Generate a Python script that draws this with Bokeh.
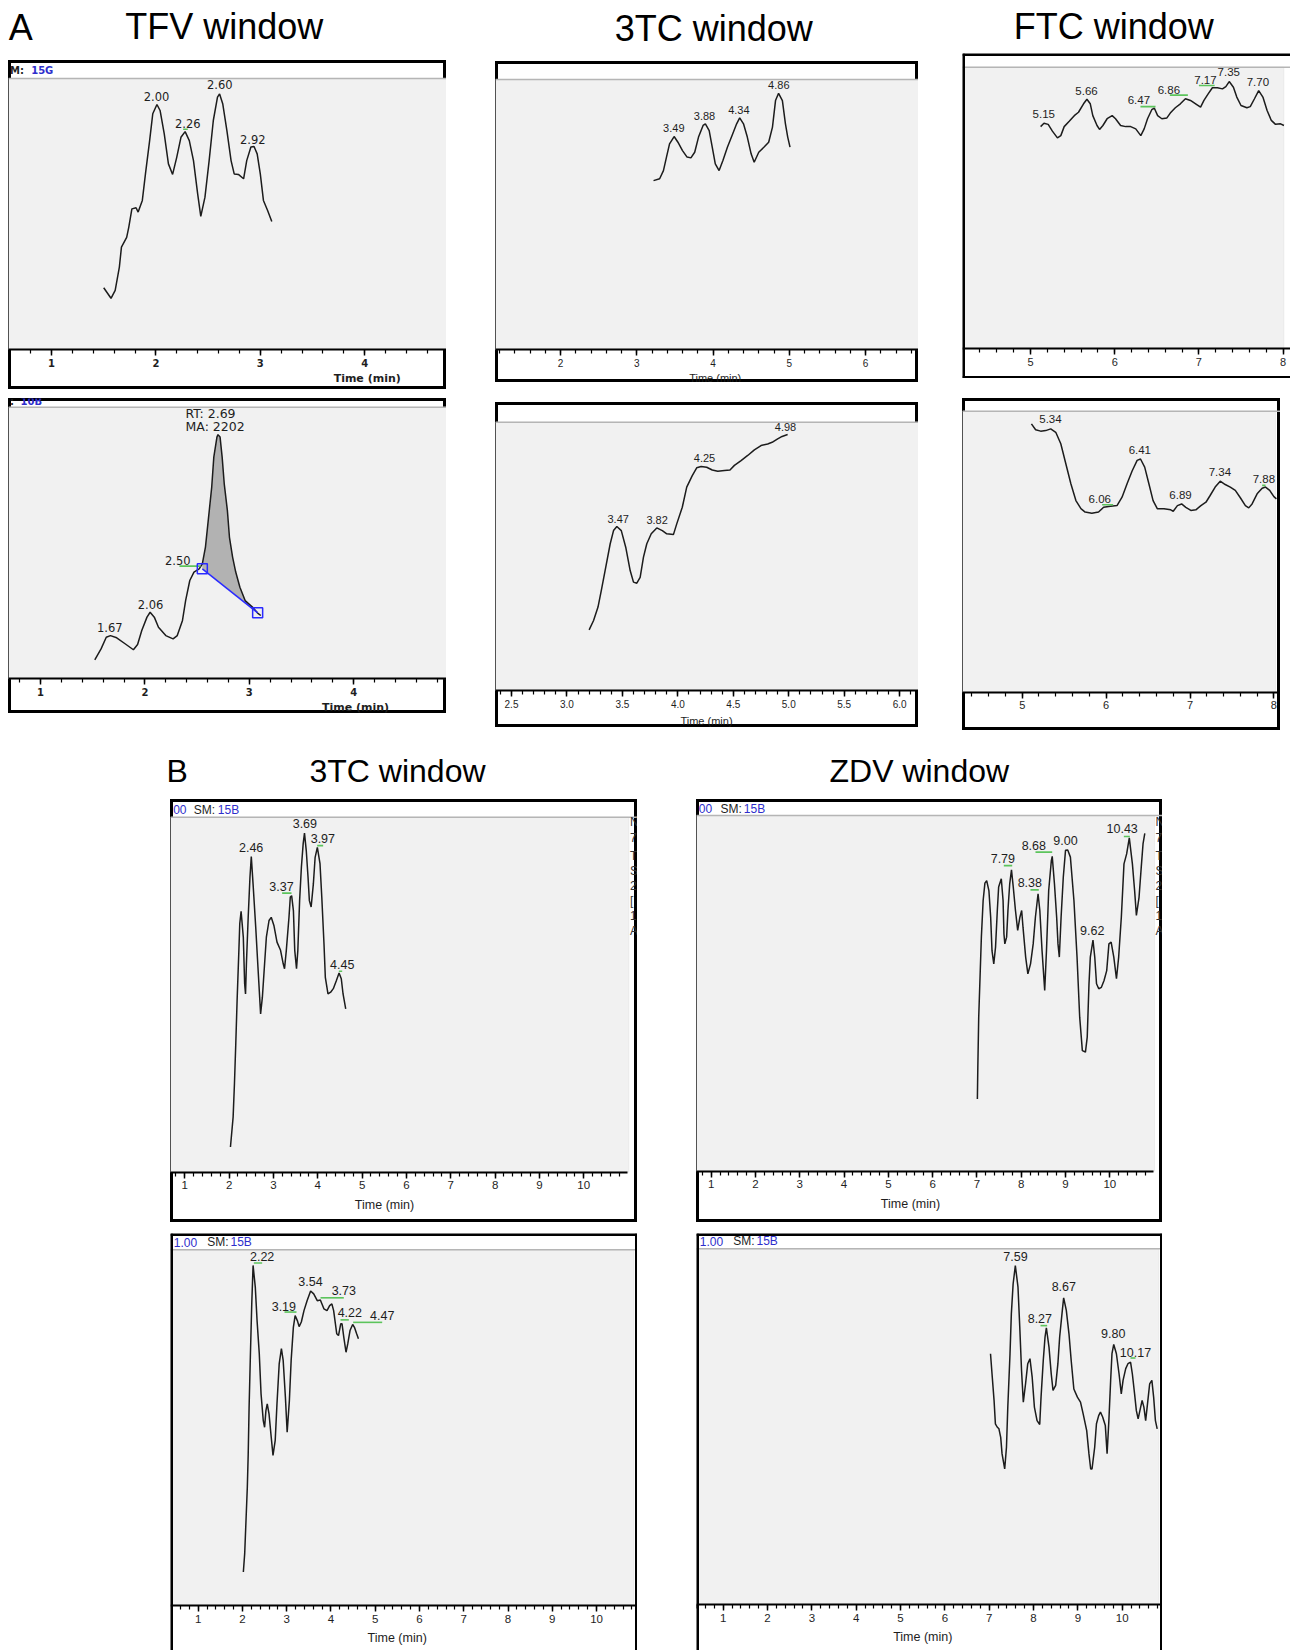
import numpy as np
from bokeh.plotting import figure
from bokeh.layouts import row, column
from bokeh.models import (Range1d, LinearAxis, SingleIntervalTicker, BoxAnnotation,
                          Span, Label, Spacer, PrintfTickFormatter)
from bokeh.core.properties import value
from bokeh.embed import file_html
from bokeh.resources import INLINE

# ------------------------------------------------------------------ data
# Panel A, TFV window (top)
tfv_a_t = [1.50, 1.57, 1.61, 1.65, 1.67, 1.72, 1.74, 1.77, 1.81, 1.83, 1.87, 1.90, 1.94, 1.97, 2.01,
           2.04, 2.08, 2.12, 2.16, 2.20, 2.24, 2.28, 2.32, 2.36, 2.40, 2.43, 2.47, 2.51, 2.55, 2.59,
           2.61, 2.64, 2.68, 2.72, 2.75, 2.79, 2.84, 2.87, 2.91, 2.94, 2.97, 3.00, 3.03, 3.07, 3.11]
tfv_a_y = [22.8, 18.9, 21.8, 30.4, 37.8, 41.4, 45.1, 51.9, 52.3, 50.7, 55.0, 64.8, 77.1, 87.0, 90.4,
           88.2, 79.6, 68.5, 64.6, 71.0, 78.3, 80.4, 77.1, 69.7, 57.4, 49.1, 56.2, 69.7, 84.5, 93.1,
           94.3, 90.7, 80.8, 69.7, 64.8, 64.6, 63.0, 69.7, 74.7, 74.9, 72.2, 64.8, 55.0, 51.3, 47.2]
tfv_a_lab = ["2.00", "2.26", "2.60", "2.92"]
tfv_a_lab_t = [2.006, 2.305, 2.612, 2.928]
tfv_a_lab_y = [91.9, 81.8, 96.2, 76.1]

# Panel A, TFV window (bottom)
tfv_b_t = [1.52, 1.58, 1.63, 1.67, 1.73, 1.81, 1.89, 1.93, 1.97, 2.02, 2.05, 2.09, 2.13, 2.20, 2.27,
           2.31, 2.36, 2.39, 2.43, 2.47, 2.52, 2.55, 2.58, 2.61, 2.64, 2.66, 2.69, 2.70, 2.72, 2.74,
           2.76, 2.79, 2.81, 2.84, 2.87, 2.91, 2.96, 3.03, 3.08, 3.11]
tfv_b_y = [7.0, 11.0, 15.3, 15.9, 15.1, 12.9, 10.7, 12.6, 17.8, 22.7, 24.5, 22.7, 19.0, 15.9, 14.7,
           15.9, 21.5, 28.8, 36.2, 39.3, 40.5, 42.3, 48.5, 59.5, 70.6, 81.6, 89.0, 89.9, 89.0, 81.6,
           71.8, 62.0, 52.1, 44.8, 39.3, 33.7, 28.8, 26.4, 24.2, 23.3]
tfv_b_lab = ["1.67", "2.06", "2.50"]
tfv_b_lab_t = [1.664, 2.054, 2.315]
tfv_b_lab_y = [17.5, 25.8, 42.0]
tfv_b_base_t = [2.55, 3.08]
tfv_b_base_y = [40.5, 24.3]

# Panel A, 3TC window (top)
tc_a_t = [3.22, 3.30, 3.35, 3.39, 3.43, 3.49, 3.54, 3.60, 3.66, 3.71, 3.76, 3.81, 3.87, 3.90, 3.95,
          3.99, 4.03, 4.08, 4.13, 4.19, 4.25, 4.31, 4.35, 4.40, 4.45, 4.50, 4.54, 4.60, 4.67, 4.73,
          4.78, 4.82, 4.86, 4.91, 4.95, 4.98, 5.01]
tc_a_y = [62.6, 63.3, 66.3, 71.3, 76.2, 78.9, 76.8, 73.7, 71.3, 71.0, 73.1, 78.7, 83.0, 83.6, 81.1,
          75.0, 68.8, 66.3, 70.0, 75.0, 79.3, 83.6, 85.8, 83.6, 78.7, 72.5, 69.4, 73.1, 75.0, 76.8,
          82.4, 92.2, 94.9, 92.2, 83.6, 78.7, 75.0]
tc_a_lab = ["3.49", "3.88", "4.34", "4.86"]
tc_a_lab_t = [3.486, 3.889, 4.339, 4.863]
tc_a_lab_y = [80.5, 85.2, 87.3, 96.6]

# Panel A, 3TC window (bottom)
tc_b_t = [3.20, 3.24, 3.28, 3.31, 3.35, 3.39, 3.42, 3.45, 3.49, 3.53, 3.57, 3.60, 3.63, 3.66, 3.69,
          3.72, 3.76, 3.81, 3.86, 3.90, 3.96, 3.99, 4.04, 4.08, 4.13, 4.17, 4.21, 4.26, 4.31, 4.36,
          4.42, 4.47, 4.51, 4.57, 4.63, 4.69, 4.75, 4.81, 4.85, 4.90, 4.94, 4.99]
tc_b_y = [22.6, 26.1, 31.1, 37.3, 46.0, 54.7, 59.6, 61.1, 59.6, 53.4, 44.7, 40.4, 40.0, 42.2, 49.7,
          54.7, 58.4, 60.6, 59.6, 58.4, 58.1, 62.1, 68.3, 75.8, 80.1, 83.0, 83.5, 83.2, 82.2, 81.7,
          82.0, 82.2, 83.9, 85.7, 87.6, 89.7, 91.3, 91.9, 92.5, 93.8, 94.7, 95.4]
tc_b_lab = ["3.47", "3.82", "4.25", "4.98"]
tc_b_lab_t = [3.462, 3.813, 4.240, 4.971]
tc_b_lab_y = [62.4, 62.1, 85.1, 96.9]

# Panel A, FTC window (top)
ftc_a_t = [5.12, 5.16, 5.21, 5.26, 5.32, 5.36, 5.40, 5.46, 5.52, 5.57, 5.63, 5.67, 5.71, 5.74, 5.79,
           5.82, 5.86, 5.91, 5.97, 6.01, 6.07, 6.13, 6.19, 6.25, 6.31, 6.35, 6.39, 6.44, 6.47, 6.51,
           6.56, 6.62, 6.66, 6.72, 6.78, 6.84, 6.90, 6.97, 7.02, 7.06, 7.11, 7.16, 7.22, 7.28, 7.32,
           7.36, 7.41, 7.45, 7.50, 7.57, 7.61, 7.66, 7.71, 7.76, 7.81, 7.86, 7.91, 7.97, 8.01]
ftc_a_y = [78.9, 80.1, 79.7, 77.3, 74.9, 75.7, 78.9, 80.8, 82.8, 84.0, 87.0, 88.6, 87.0, 82.8, 79.3,
           77.9, 79.3, 81.7, 82.8, 81.7, 79.3, 78.9, 78.9, 78.1, 75.7, 78.1, 81.7, 84.9, 85.5, 82.8,
           81.7, 82.0, 83.7, 85.6, 87.0, 88.8, 88.2, 86.8, 85.8, 88.2, 90.5, 92.7, 92.7, 92.3, 93.1,
           94.9, 92.9, 89.4, 86.4, 85.6, 86.0, 88.8, 91.7, 89.4, 84.6, 81.1, 79.7, 79.9, 79.3]
ftc_a_lab = ["5.15", "5.66", "6.47", "6.86", "7.17", "7.35", "7.70"]
ftc_a_lab_t = [5.158, 5.665, 6.287, 6.643, 7.078, 7.355, 7.700]
ftc_a_lab_y = [82.0, 90.2, 87.0, 90.5, 94.1, 96.7, 93.1]
ftc_a_mk_t0 = [6.306, 6.655, 7.000]
ftc_a_mk_t1 = [6.485, 6.869, 7.187]
ftc_a_mk_y = [86.0, 90.1, 93.5]

# Panel A, FTC window (bottom)
ftc_b_t = [5.11, 5.16, 5.22, 5.28, 5.34, 5.40, 5.46, 5.52, 5.58, 5.64, 5.70, 5.75, 5.83, 5.91, 5.97,
           6.03, 6.13, 6.19, 6.25, 6.31, 6.37, 6.41, 6.46, 6.51, 6.56, 6.61, 6.69, 6.77, 6.80, 6.85,
           6.90, 6.95, 7.01, 7.07, 7.13, 7.19, 7.24, 7.30, 7.36, 7.42, 7.48, 7.54, 7.60, 7.66, 7.70,
           7.74, 7.80, 7.86, 7.90, 7.95, 8.00, 8.03]
ftc_b_y = [95.5, 93.4, 92.9, 93.1, 93.7, 92.5, 88.4, 81.3, 74.2, 68.2, 65.3, 64.1, 63.7, 64.1, 65.8,
           66.1, 66.4, 69.4, 74.2, 78.7, 82.5, 83.0, 80.1, 74.2, 68.2, 65.3, 65.3, 64.9, 64.4, 66.4,
           67.0, 65.8, 64.7, 64.9, 66.4, 67.6, 70.0, 73.0, 75.1, 73.9, 73.0, 71.8, 69.2, 66.4, 65.6,
           67.0, 70.6, 72.6, 73.0, 71.8, 69.6, 68.8]
ftc_b_lab = ["5.34", "6.06", "6.41", "6.89", "7.34", "7.88"]
ftc_b_lab_t = [5.337, 5.925, 6.402, 6.887, 7.356, 7.880]
ftc_b_lab_y = [95.7, 67.3, 84.6, 68.8, 76.8, 74.4]
ftc_b_mk_t0 = [5.953, 7.860]
ftc_b_mk_t1 = [6.084, 7.900]
ftc_b_mk_y = [66.7, 73.6]

# Panel B, 3TC window (top)
b3tc_a_t = [2.03, 2.09, 2.12, 2.15, 2.18, 2.22, 2.24, 2.27, 2.32, 2.35, 2.37, 2.39, 2.43, 2.47, 2.50,
            2.54, 2.60, 2.65, 2.71, 2.75, 2.80, 2.84, 2.90, 2.95, 3.01, 3.08, 3.16, 3.22, 3.25, 3.29,
            3.35, 3.38, 3.41, 3.45, 3.48, 3.52, 3.55, 3.59, 3.63, 3.67, 3.70, 3.74, 3.78, 3.81, 3.85,
            3.90, 3.94, 3.99, 4.05, 4.09, 4.14, 4.17, 4.23, 4.29, 4.35, 4.42, 4.48, 4.53, 4.57, 4.63]
b3tc_a_y = [7.1, 15.5, 24.9, 36.2, 48.4, 62.5, 70.0, 73.5, 66.2, 53.1, 50.2, 58.7, 71.8, 83.1, 88.9,
            81.2, 69.0, 57.8, 44.6, 49.3, 58.7, 66.2, 70.9, 71.8, 69.5, 64.8, 62.5, 58.7, 57.3, 62.5,
            71.8, 77.5, 77.9, 73.7, 62.5, 57.3, 62.5, 76.5, 85.9, 92.5, 95.5, 90.6, 83.1, 76.5, 74.7,
            81.2, 88.7, 91.5, 86.9, 77.5, 64.3, 54.9, 50.2, 50.7, 51.7, 54.0, 56.1, 54.5, 50.2, 46.0]
b3tc_a_lab = ["2.46", "3.37", "3.69", "3.97", "4.45"]
b3tc_a_lab_t = [2.497, 3.181, 3.708, 4.114, 4.550]
b3tc_a_lab_y = [90.3, 79.1, 96.9, 92.7, 57.3]
b3tc_a_mk_t0 = [3.196, 3.986, 4.475]
b3tc_a_mk_t1 = [3.407, 4.121, 4.550]
b3tc_a_mk_y = [78.6, 92.0, 56.6]

# Panel B, ZDV window (top)
zdv_a_t = [7.01, 7.02, 7.04, 7.07, 7.10, 7.14, 7.18, 7.22, 7.27, 7.31, 7.34, 7.38, 7.42, 7.46, 7.49,
           7.55, 7.59, 7.61, 7.63, 7.67, 7.70, 7.74, 7.78, 7.82, 7.87, 7.92, 7.97, 8.01, 8.04, 8.10,
           8.15, 8.21, 8.27, 8.32, 8.38, 8.42, 8.47, 8.53, 8.57, 8.62, 8.68, 8.70, 8.75, 8.80, 8.83,
           8.86, 8.90, 8.95, 9.00, 9.05, 9.11, 9.19, 9.26, 9.32, 9.38, 9.45, 9.49, 9.53, 9.56, 9.62,
           9.66, 9.70, 9.75, 9.81, 9.87, 9.93, 9.98, 10.03, 10.09, 10.15, 10.20, 10.26, 10.32, 10.38,
           10.44, 10.51, 10.56, 10.60, 10.66, 10.71, 10.75, 10.79]
zdv_a_y = [20.3, 29.2, 43.3, 54.5, 65.8, 76.1, 81.0, 81.7, 78.9, 71.4, 62.0, 58.3, 63.0, 73.3, 79.9,
           82.2, 76.1, 66.7, 63.9, 65.8, 73.3, 80.8, 84.7, 79.9, 73.3, 67.7, 71.4, 73.3, 68.6, 60.2,
           55.5, 58.3, 63.9, 71.4, 78.0, 73.3, 62.0, 50.8, 62.0, 78.9, 87.3, 88.5, 80.8, 71.4, 63.9,
           60.2, 71.4, 82.7, 90.2, 90.3, 88.3, 76.1, 60.2, 43.3, 33.9, 33.5, 37.7, 52.7, 60.2, 65.0,
           60.2, 52.7, 51.3, 51.7, 53.6, 56.4, 63.9, 64.4, 60.2, 54.1, 60.2, 71.4, 86.4, 89.2,
           93.7, 86.4, 78.9, 71.9, 77.0, 85.5, 92.0, 95.0]
zdv_a_lab = ["7.79", "8.38", "8.68", "9.00", "9.62", "10.43"]
zdv_a_lab_t = [7.585, 8.194, 8.284, 9.000, 9.602, 10.279]
zdv_a_lab_y = [86.6, 79.9, 90.2, 91.6, 66.3, 95.0]
zdv_a_mk_t0 = [7.607, 8.209, 8.322, 10.317]
zdv_a_mk_t1 = [7.796, 8.397, 8.699, 10.452]
zdv_a_mk_y = [85.9, 79.1, 89.7, 94.1]

# Panel B, 3TC window (bottom)
b3tc_b_t = [2.02, 2.05, 2.08, 2.11, 2.13, 2.15, 2.18, 2.21, 2.24, 2.29, 2.33, 2.38, 2.42, 2.47, 2.50,
            2.53, 2.56, 2.60, 2.65, 2.69, 2.74, 2.78, 2.83, 2.88, 2.92, 2.97, 3.01, 3.06, 3.10, 3.15,
            3.19, 3.24, 3.28, 3.33, 3.39, 3.46, 3.54, 3.61, 3.69, 3.76, 3.84, 3.91, 3.97, 4.02, 4.06,
            4.13, 4.17, 4.22, 4.25, 4.29, 4.34, 4.38, 4.43, 4.49, 4.53, 4.58, 4.62]
b3tc_b_y = [9.4, 14.5, 23.9, 33.3, 42.6, 55.8, 70.8, 84.8, 95.6, 89.5, 80.1, 70.8, 59.5, 52.0, 50.1,
            54.8, 56.7, 53.9, 47.3, 42.2, 46.4, 56.7, 67.9, 72.2, 68.9, 58.6, 48.7, 57.6, 68.9, 78.2,
            81.5, 80.1, 78.4, 79.7, 82.9, 85.7, 88.4, 87.6, 85.7, 85.9, 83.4, 82.9, 84.3, 84.8, 82.9,
            76.4, 75.9, 79.2, 79.2, 75.4, 71.2, 73.6, 77.3, 79.0, 78.2, 76.4, 75.0]
b3tc_b_lab = ["2.22", "3.19", "3.54", "3.73", "4.22", "4.47"]
b3tc_b_lab_t = [2.445, 2.935, 3.537, 4.290, 4.426, 5.157]
b3tc_b_lab_y = [96.8, 82.9, 89.7, 87.2, 81.1, 80.4]
b3tc_b_mk_t0 = [2.257, 2.950, 3.763, 4.215, 4.501]
b3tc_b_mk_t1 = [2.445, 3.221, 4.290, 4.403, 5.157]
b3tc_b_mk_y = [96.3, 82.5, 86.5, 80.3, 79.6]

# Panel B, ZDV window (bottom)
zdv_b_t = [7.03, 7.07, 7.11, 7.14, 7.18, 7.22, 7.26, 7.29, 7.35, 7.39, 7.42, 7.47, 7.50, 7.54, 7.59,
           7.65, 7.69, 7.73, 7.77, 7.82, 7.87, 7.92, 7.97, 8.02, 8.08, 8.14, 8.17, 8.22, 8.26, 8.29,
           8.35, 8.40, 8.44, 8.50, 8.55, 8.59, 8.65, 8.68, 8.74, 8.80, 8.85, 8.91, 8.99, 9.06, 9.12,
           9.20, 9.25, 9.29, 9.32, 9.38, 9.42, 9.47, 9.51, 9.56, 9.62, 9.66, 9.70, 9.74, 9.77, 9.81,
           9.87, 9.93, 9.98, 10.02, 10.08, 10.13, 10.19, 10.23, 10.28, 10.32, 10.36, 10.40, 10.45,
           10.49, 10.53, 10.58, 10.62, 10.67, 10.71, 10.75, 10.79]
zdv_b_y = [70.5, 63.9, 57.4, 50.8, 49.9, 49.4, 47.0, 42.4, 38.1, 44.2, 55.5, 70.5, 81.7, 90.1, 95.3,
           89.2, 78.0, 65.8, 56.9, 62.0, 67.7, 69.1, 63.9, 55.5, 51.7, 50.6, 58.3, 68.6, 75.2, 77.8,
           72.3, 64.8, 60.2, 61.6, 67.7, 75.2, 82.7, 86.2, 82.7, 76.1, 68.6, 60.6, 58.3, 56.9, 53.6,
           48.9, 42.4, 38.1, 38.1, 44.2, 50.8, 53.1, 54.1, 52.7, 50.3, 42.4, 51.7, 63.0, 70.5, 73.1,
           70.5, 64.8, 59.2, 63.0, 66.3, 67.7, 68.1, 64.8, 59.2, 54.5, 52.2, 54.5, 57.4,
           55.5, 51.7, 57.4, 62.0, 63.0, 58.3, 51.7, 49.4]
zdv_b_lab = ["7.59", "8.27", "8.67", "9.80", "10.17"]
zdv_b_lab_t = [7.594, 8.143, 8.684, 9.797, 10.301]
zdv_b_lab_y = [96.7, 79.1, 88.0, 74.9, 69.7]
zdv_b_mk_t0 = [8.158, 10.188]
zdv_b_mk_t1 = [8.308, 10.301]
zdv_b_mk_y = [78.4, 69.3]

# ------------------------------------------------------------------ layout geometry (page pixels)
G = {
    "A1": dict(L=8, R=446, T=60, B=389, H=78, A=349, t0=1.0, x0=51, ppm=104.4),
    "A2": dict(L=8, R=446, T=398, B=713, H=406.7, A=678.3, t0=1.0, x0=40, ppm=104.4),
    "A3": dict(L=495, R=918, T=61, B=382, H=79, A=349.3, t0=2.0, x0=560, ppm=76.25),
    "A4": dict(L=495, R=918, T=402, B=727, H=421.7, A=690, t0=2.5, x0=511, ppm=110.9),
    "A5": dict(L=962, R=1290, T=53, B=378, H=66.7, A=348.3, t0=5.0, x0=1030, ppm=84.2),
    "A6": dict(L=962, R=1280, T=398, B=730, H=410.7, A=691.7, t0=5.0, x0=1021.7, ppm=83.9),
    "B1": dict(L=170, R=637, T=799, B=1222, H=816.7, A=1171.7, t0=1.0, x0=184.3, ppm=44.33),
    "B2": dict(L=696, R=1162, T=799, B=1222, H=815, A=1170.7, t0=1.0, x0=710.7, ppm=44.29),
    "B3": dict(L=170, R=637, T=1233, B=1650, H=1249.3, A=1605, t0=1.0, x0=197.7, ppm=44.26),
    "B4": dict(L=696, R=1162, T=1233, B=1650, H=1248.3, A=1604, t0=1.0, x0=722.7, ppm=44.33),
}

BLUE = "#2e2ecc"
GREEN = "#5cc45c"
LIB = "Liberation Sans"
DJV = "DejaVu Sans"


def mappers(g):
    def tx(X):
        return g["t0"] + (X - g["x0"]) / g["ppm"]

    def ry(Y):
        return (g["A"] - Y) / (g["A"] - g["H"]) * 100.0
    return tx, ry


def panel(g, t, y, lab, lab_t, lab_y, mk=None, *, lab_font, lab_px, tick_font, tick_size,
          tick_style="normal", interval=1.0, fmt=None, gray_right_px=None, axis_end_px=None,
          time_px=None, time_font=LIB, time_size="12px", time_style="normal", headers=(),
          sides="LRTB", side_text=None, shade=None):
    tx, ry = mappers(g)
    W = int(round(g["R"] - g["L"]))
    Hh = int(round(g["B"] - g["T"]))
    p = figure(width=W, height=Hh,
               x_range=Range1d(tx(g["L"]), tx(g["R"])),
               y_range=Range1d(ry(g["B"]), ry(g["T"])),
               x_axis_type=None, y_axis_type=None, toolbar_location=None,
               output_backend="svg", min_border=0, min_border_left=0, min_border_right=0,
               min_border_top=0, min_border_bottom=0,
               background_fill_color="white", border_fill_color="white")
    gray_kw = dict(bottom=0, top=100, fill_color="#f1f1f1", fill_alpha=1.0,
                   line_color="#d0d0d0", line_width=1, level="underlay")
    if gray_right_px is not None:
        gray_kw["right"] = tx(gray_right_px)
    p.add_layout(BoxAnnotation(**gray_kw))
    p.add_layout(Span(location=100, dimension="width", line_color="#b5b5b5",
                      line_width=1.5, level="underlay"))

    ax = LinearAxis(fixed_location=0,
                    ticker=SingleIntervalTicker(interval=interval, num_minor_ticks=5))
    if axis_end_px is not None:
        ax.bounds = (tx(g["L"]), tx(axis_end_px))
    ax.axis_line_color = "black"
    ax.axis_line_width = 2
    ax.major_tick_in = 0
    ax.major_tick_out = 6
    ax.major_tick_line_width = 1.5
    ax.minor_tick_in = 0
    ax.minor_tick_out = 4
    ax.minor_tick_line_width = 1.2
    ax.major_label_text_font = tick_font
    ax.major_label_text_font_size = tick_size
    ax.major_label_text_font_style = tick_style
    ax.major_label_text_color = "#1e1e1e"
    ax.major_label_standoff = 3
    if fmt:
        ax.formatter = PrintfTickFormatter(format=fmt)
    p.add_layout(ax, "below")

    if shade is not None:
        p.varea(x=shade[0], y1=shade[1], y2=shade[2], fill_color="#b2b2b2")
    p.line(x=t, y=y, line_color="#1c1c1c", line_width=1.5)
    if mk is not None:
        p.segment(x0=mk[0], y0=mk[2], x1=mk[1], y1=mk[2], line_color=GREEN, line_width=1.6)
    p.text(x=lab_t, y=lab_y, text=lab, text_align="center", text_baseline="middle",
           y_offset=-0.36 * lab_px,
           text_font=value(lab_font), text_font_size=value(f"{lab_px}px"), text_color="#1e1e1e")

    if time_px is not None:
        p.add_layout(Label(x=tx(time_px[0]), y=ry(time_px[1]), text="Time (min)",
                           text_align="center", text_baseline="middle", text_font=time_font,
                           text_font_size=time_size, text_font_style=time_style,
                           text_color="#1e1e1e"))
    for (X, Y, txt, col, size, style, font) in headers:
        p.add_layout(Label(x=tx(X), y=ry(Y), text=txt, text_align="left",
                           text_baseline="middle", text_color=col, text_font_size=size,
                           text_font_style=style, text_font=font))
    if side_text is not None:
        X0, ys, chars = side_text
        for Y, ch in zip(ys, chars):
            p.add_layout(Label(x=tx(X0), y=ry(Y), text=ch, text_align="left",
                               text_baseline="middle", text_font=LIB, text_font_size="12px",
                               text_color="#333333"))

    if sides == "LRTB":
        p.outline_line_color = "black"
        p.outline_line_width = 5
    else:
        p.outline_line_color = None
        if "L" in sides:
            p.add_layout(Span(location=tx(g["L"]), dimension="height", line_color="black", line_width=5))
        if "R" in sides:
            p.add_layout(Span(location=tx(g["R"]), dimension="height", line_color="black", line_width=5))
        if "T" in sides:
            p.add_layout(Span(location=ry(g["T"]), dimension="width", line_color="black", line_width=5))
        if "B" in sides:
            p.add_layout(Span(location=ry(g["B"]), dimension="width", line_color="black", line_width=5))
    return p


# ---------------- Panel A
pA1 = panel(G["A1"], tfv_a_t, tfv_a_y, tfv_a_lab, tfv_a_lab_t, tfv_a_lab_y,
            ([2.261], [2.305], [81.3]),
            lab_font=DJV, lab_px=11.5, tick_font=DJV, tick_size="10px",
            tick_style="bold", time_px=(366.7, 377.7), time_font=DJV, time_size="11px",
            time_style="bold",
            headers=[(9.5, 70.3, "M:", "#1e1e1e", "10px", "bold", DJV),
                     (30.7, 70.3, "15G", BLUE, "10px", "bold", DJV)])

# integrated peak (RT 2.69): grey area between the trace and the blue baseline
seg = [v for v in tfv_b_t if tfv_b_base_t[0] < v < tfv_b_base_t[1]]
xs = [tfv_b_base_t[0]] + seg + [tfv_b_base_t[1]]
shade_b = (xs, list(np.interp(xs, tfv_b_base_t, tfv_b_base_y)), list(np.interp(xs, tfv_b_t, tfv_b_y)))

pA2 = panel(G["A2"], tfv_b_t, tfv_b_y, tfv_b_lab, tfv_b_lab_t, tfv_b_lab_y,
            ([2.331], [2.533], [41.5]),
            lab_font=DJV, lab_px=11.5, tick_font=DJV, tick_size="10px",
            tick_style="bold", time_px=(355, 707.3), time_font=DJV, time_size="11px",
            time_style="bold",
            headers=[(9.5, 401, ":", "#1e1e1e", "10px", "bold", DJV),
                     (20, 401, "10B", BLUE, "10px", "bold", DJV)],
            shade=shade_b)
pA2.line(x=tfv_b_base_t, y=tfv_b_base_y, line_color="#2a2aff", line_width=1.5)
pA2.scatter(x=tfv_b_base_t, y=tfv_b_base_y, marker="square", size=10, fill_color=None,
            line_color="#2a2aff", line_width=1.5)
pA2.text(x=[2.389, 2.389], y=[96.1, 91.4], text=["RT: 2.69", "MA: 2202"], text_align="left",
         text_baseline="middle", y_offset=-4.5, text_font=value(DJV),
         text_font_size=value("12.5px"), text_color="#1e1e1e")

pA3 = panel(G["A3"], tc_a_t, tc_a_y, tc_a_lab, tc_a_lab_t, tc_a_lab_y, None,
            lab_font=LIB, lab_px=11, tick_font=LIB, tick_size="10px",
            time_px=(714.7, 377.7), time_size="11px")

pA4 = panel(G["A4"], tc_b_t, tc_b_y, tc_b_lab, tc_b_lab_t, tc_b_lab_y, None,
            lab_font=LIB, lab_px=11, tick_font=LIB, tick_size="10px",
            interval=0.5, fmt="%.1f", time_px=(706, 720), time_size="11px")

pA5 = panel(G["A5"], ftc_a_t, ftc_a_y, ftc_a_lab, ftc_a_lab_t, ftc_a_lab_y,
            (ftc_a_mk_t0, ftc_a_mk_t1, ftc_a_mk_y),
            lab_font=LIB, lab_px=11.5, tick_font=LIB, tick_size="11px",
            gray_right_px=1283.3, sides="LTB")

pA6 = panel(G["A6"], ftc_b_t, ftc_b_y, ftc_b_lab, ftc_b_lab_t, ftc_b_lab_y,
            (ftc_b_mk_t0, ftc_b_mk_t1, ftc_b_mk_y),
            lab_font=LIB, lab_px=11.5, tick_font=LIB, tick_size="11px",
            gray_right_px=1275)

# ---------------- Panel B
side_chars = ["N", "7", "T", "S", "2", "[", "1", "A"]
side_ys = [821.7, 837.3, 855, 870, 885, 900.7, 915, 930]

pB1 = panel(G["B1"], b3tc_a_t, b3tc_a_y, b3tc_a_lab, b3tc_a_lab_t, b3tc_a_lab_y,
            (b3tc_a_mk_t0, b3tc_a_mk_t1, b3tc_a_mk_y),
            lab_font=LIB, lab_px=12.5, tick_font=LIB, tick_size="11.5px",
            gray_right_px=628.3, axis_end_px=627, time_px=(384, 1204), time_size="12.5px",
            headers=[(172.7, 809.3, "00", BLUE, "12px", "normal", LIB),
                     (193.3, 809.3, "SM:", "#1e1e1e", "12px", "normal", LIB),
                     (217.3, 809.3, "15B", BLUE, "12px", "normal", LIB)],
            side_text=(629.5, side_ys, side_chars))

pB2 = panel(G["B2"], zdv_a_t, zdv_a_y, zdv_a_lab, zdv_a_lab_t, zdv_a_lab_y,
            (zdv_a_mk_t0, zdv_a_mk_t1, zdv_a_mk_y),
            lab_font=LIB, lab_px=12.5, tick_font=LIB, tick_size="11.5px",
            gray_right_px=1154, axis_end_px=1153, time_px=(910, 1203.3), time_size="12.5px",
            headers=[(698.3, 808.3, "00", BLUE, "12px", "normal", LIB),
                     (720, 808.3, "SM:", "#1e1e1e", "12px", "normal", LIB),
                     (743.3, 808.3, "15B", BLUE, "12px", "normal", LIB)],
            side_text=(1155, side_ys, side_chars))

pB3 = panel(G["B3"], b3tc_b_t, b3tc_b_y, b3tc_b_lab, b3tc_b_lab_t, b3tc_b_lab_y,
            (b3tc_b_mk_t0, b3tc_b_mk_t1, b3tc_b_mk_y),
            lab_font=LIB, lab_px=12.5, tick_font=LIB, tick_size="11.5px",
            gray_right_px=633.3, time_px=(396.7, 1637.3), time_size="12.5px",
            headers=[(173.3, 1241.7, "1.00", BLUE, "12px", "normal", LIB),
                     (206.7, 1241.7, "SM:", "#1e1e1e", "12px", "normal", LIB),
                     (230, 1241.7, "15B", BLUE, "12px", "normal", LIB)],
            sides="LRT")

pB4 = panel(G["B4"], zdv_b_t, zdv_b_y, zdv_b_lab, zdv_b_lab_t, zdv_b_lab_y,
            (zdv_b_mk_t0, zdv_b_mk_t1, zdv_b_mk_y),
            lab_font=LIB, lab_px=12.5, tick_font=LIB, tick_size="11.5px",
            gray_right_px=1158.3, time_px=(922.3, 1636.7), time_size="12.5px",
            headers=[(699.3, 1240.7, "1.00", BLUE, "12px", "normal", LIB),
                     (732.7, 1240.7, "SM:", "#1e1e1e", "12px", "normal", LIB),
                     (756, 1240.7, "15B", BLUE, "12px", "normal", LIB)],
            sides="LRT")


# ---------------- title strips
def strip(W, H, items):
    p = figure(width=W, height=H, x_range=Range1d(0, W), y_range=Range1d(H, 0),
               x_axis_type=None, y_axis_type=None, toolbar_location=None,
               output_backend="svg", min_border=0, min_border_left=0, min_border_right=0,
               min_border_top=0, min_border_bottom=0, outline_line_color=None,
               background_fill_color="white", border_fill_color="white")
    for (x, y, txt, size, align) in items:
        p.add_layout(Label(x=x, y=y, text=txt, text_align=align, text_baseline="middle",
                           text_font=LIB, text_font_size=size, text_color="black"))
    return p


stripA = strip(1290, 52, [(8.3, 26.5, "A", "36px", "left"),
                          (223.8, 25.5, "TFV window", "36px", "center"),
                          (713.3, 28.0, "3TC window", "36px", "center"),
                          (1113.3, 25.5, "FTC window", "36px", "center")])
stripB = strip(1290, 69, [(166, 40.3, "B", "32px", "left"),
                          (397, 40.0, "3TC window", "32px", "center"),
                          (918.8, 40.0, "ZDV window", "32px", "center")])

colA1 = column(Spacer(width=438, height=8), pA1, Spacer(width=438, height=9), pA2)
colA2 = column(Spacer(width=423, height=9), pA3, Spacer(width=423, height=20), pA4)
colA3 = column(Spacer(width=328, height=1), pA5, Spacer(width=328, height=20), pA6)
rowA = row(Spacer(width=8, height=678), colA1, Spacer(width=49, height=678), colA2,
           Spacer(width=44, height=678), colA3)
colB1 = column(pB1, Spacer(width=467, height=11), pB3)
colB2 = column(pB2, Spacer(width=466, height=11), pB4)
rowB = row(Spacer(width=170, height=851), colB1, Spacer(width=59, height=851), colB2)
layout = column(stripA, rowA, stripB, rowB)

open("out.html", "w").write(file_html(layout, INLINE, title="Chromatograms"))
